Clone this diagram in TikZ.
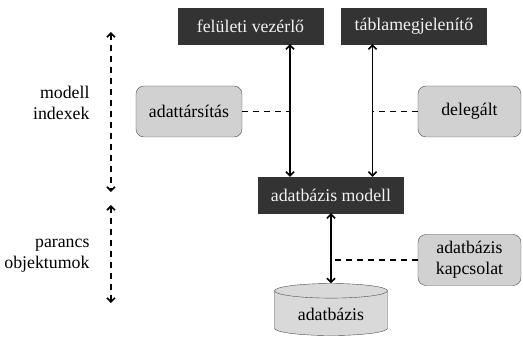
\documentclass[tikz,border=0pt]{standalone}
\usepackage{fontspec}
\setmainfont{Liberation Serif}
\usetikzlibrary{positioning,shapes.geometric,arrows.meta}

\tikzset{
    darkbox/.style={draw=black!80, fill=black!80, text=black!5, minimum width=145pt, minimum height=36pt},
    graybox/.style={draw=black!70, fill=black!18, rounded corners=8pt, minimum width=103pt, minimum height=51pt, inner xsep=13pt, align=center},
    dbshape/.style={cylinder, shape border rotate=90, aspect=0.2, draw=black!70, fill=black!15, minimum width=113pt, minimum height=52pt},
    flow/.style={line width=1.6pt, {Straight Barb[length=4pt,width=8pt]}-{Straight Barb[length=4pt,width=8pt]}},
    link/.style={line width=1.6pt, dash pattern=on 6pt off 5pt},
    layer/.style={line width=1.6pt, dash pattern=on 6pt off 5pt, {Straight Barb[length=4pt,width=8pt]}-{Straight Barb[length=4pt,width=8pt]}}
}

\begin{document}
\begin{tikzpicture}[node distance=1.5cm, font=\fontsize{17.8pt}{21pt}\selectfont]
        \useasboundingbox (-331pt,-145pt) rectangle (192pt,195pt);

        \node [darkbox] (model) {adatbázis modell};
        \node [darkbox, above of=model, node distance=169pt, xshift=-80.5pt] (ui) {felületi vezérlő};
        \node [darkbox, right of=ui, node distance=163.5pt] (table) {táblamegjelenítő};
        \node [graybox, above of=model, node distance=83.5pt, xshift=-142pt] (assoc) {adattársítás};
        \node [graybox, right of=assoc, node distance=280.5pt] (deleg) {delegált};
        \node [graybox, below of=deleg, node distance=148.5pt] (conn) {adatbázis\\kapcsolat};
        \node [dbshape, below of=model, node distance=119.5pt] (db) {adatbázis};

        \coordinate (uiline) at ([xshift=-41pt]model.north);
        \coordinate (tableline) at ([xshift=41.5pt]model.north);

        \draw [flow] (uiline) -- (uiline|-ui.south);
        \draw [flow] (tableline) -- (tableline|-table.south);
        \draw [flow] (model) -- (db);

        \draw [link] (assoc) -- (assoc-|uiline);
        \draw [link] (deleg) -- (deleg-|tableline);
        \draw [link] (conn) -- (conn-|model);

        % retegek a bal oldalon
        \coordinate (idxtop) at (-220pt,163pt);
        \coordinate (idxbottom) at (-220pt,3pt);
        \coordinate (cmdtop) at (-220pt,-10pt);
        \coordinate (cmdbottom) at (-220pt,-108pt);
        \draw [layer] (idxtop) -- (idxbottom);
        \draw [layer] (cmdtop) -- (cmdbottom);

        \node [anchor=east, align=right] (idxlabel) at (-238pt,92pt) {modell\\indexek};
        \node [anchor=east, align=right] (cmdlabel) at (-238pt,-61pt) {parancs\\objektumok};
    \end{tikzpicture}
\end{document}
